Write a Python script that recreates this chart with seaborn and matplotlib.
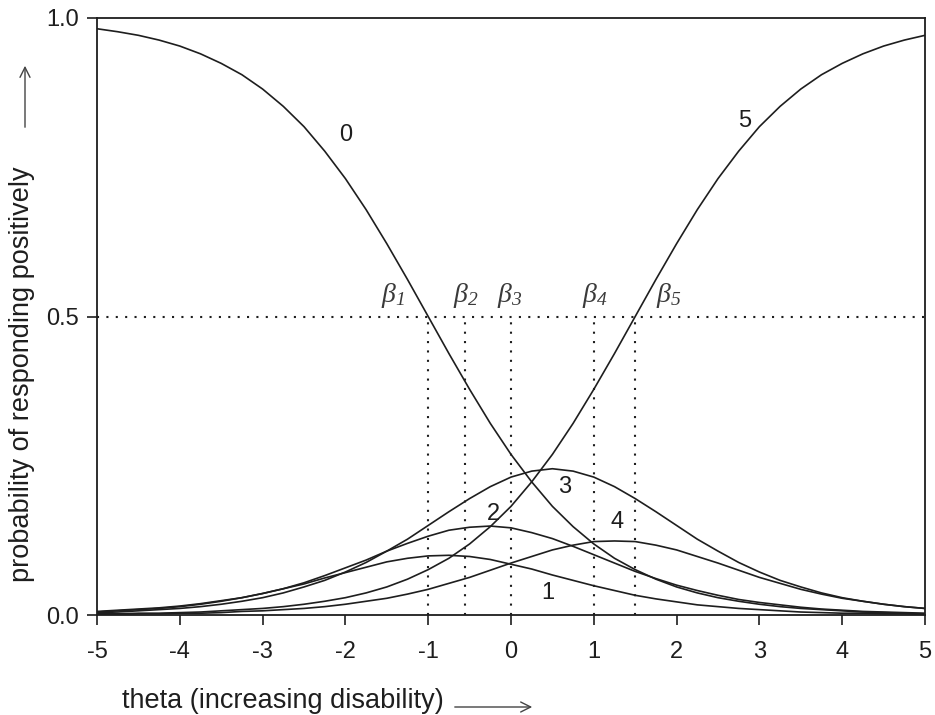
import matplotlib
matplotlib.use("Agg")
import matplotlib.pyplot as plt
import pandas as pd
import seaborn as sns

# ---- data ----
theta = [-5.0, -4.75, -4.5, -4.25, -4.0, -3.75, -3.5, -3.25, -3.0, -2.75,
         -2.5, -2.25, -2.0, -1.75, -1.5, -1.25, -1.0, -0.75, -0.5, -0.25,
         0.0, 0.25, 0.5, 0.75, 1.0, 1.25, 1.5, 1.75, 2.0, 2.25,
         2.5, 2.75, 3.0, 3.25, 3.5, 3.75, 4.0, 4.25, 4.5, 4.75, 5.0]

cat0 = [0.982, 0.977, 0.971, 0.963, 0.953, 0.940, 0.924, 0.905, 0.881, 0.852,
        0.818, 0.777, 0.731, 0.679, 0.622, 0.562, 0.500, 0.438, 0.378, 0.321,
        0.269, 0.223, 0.182, 0.148, 0.119, 0.095, 0.076, 0.060, 0.047, 0.037,
        0.029, 0.023, 0.018, 0.014, 0.011, 0.009, 0.007, 0.005, 0.004, 0.003, 0.002]
cat1 = [0.006, 0.008, 0.010, 0.012, 0.015, 0.019, 0.024, 0.029, 0.036, 0.044,
        0.052, 0.062, 0.071, 0.080, 0.089, 0.095, 0.099, 0.100, 0.098, 0.093,
        0.085, 0.077, 0.067, 0.058, 0.049, 0.041, 0.033, 0.027, 0.022, 0.017,
        0.014, 0.011, 0.009, 0.007, 0.005, 0.004, 0.003, 0.003, 0.002, 0.002, 0.001]
cat2 = [0.005, 0.007, 0.009, 0.011, 0.014, 0.018, 0.023, 0.029, 0.036, 0.044,
        0.054, 0.066, 0.079, 0.092, 0.107, 0.120, 0.132, 0.142, 0.147, 0.149,
        0.146, 0.138, 0.128, 0.115, 0.101, 0.087, 0.073, 0.061, 0.050, 0.041,
        0.033, 0.026, 0.021, 0.017, 0.013, 0.010, 0.008, 0.006, 0.005, 0.004, 0.003]
cat3 = [0.004, 0.005, 0.007, 0.009, 0.011, 0.014, 0.018, 0.023, 0.029, 0.037,
        0.047, 0.058, 0.072, 0.088, 0.107, 0.127, 0.150, 0.173, 0.195, 0.215,
        0.231, 0.241, 0.245, 0.241, 0.231, 0.215, 0.195, 0.173, 0.150, 0.127,
        0.107, 0.088, 0.072, 0.058, 0.047, 0.037, 0.029, 0.023, 0.018, 0.014, 0.011]
cat4 = [0.001, 0.001, 0.002, 0.002, 0.003, 0.003, 0.004, 0.006, 0.007, 0.009,
        0.011, 0.014, 0.018, 0.023, 0.028, 0.035, 0.043, 0.053, 0.063, 0.075,
        0.087, 0.098, 0.109, 0.117, 0.123, 0.124, 0.123, 0.117, 0.109, 0.098,
        0.087, 0.075, 0.063, 0.053, 0.043, 0.035, 0.028, 0.023, 0.018, 0.014, 0.011]
cat5 = [0.002, 0.002, 0.003, 0.003, 0.004, 0.005, 0.007, 0.009, 0.011, 0.014,
        0.018, 0.023, 0.029, 0.037, 0.047, 0.060, 0.076, 0.095, 0.119, 0.148,
        0.182, 0.223, 0.269, 0.321, 0.378, 0.438, 0.500, 0.562, 0.622, 0.679,
        0.731, 0.777, 0.818, 0.852, 0.881, 0.905, 0.924, 0.940, 0.953, 0.963, 0.971]

categories = ["0", "1", "2", "3", "4", "5"]
curve_label_x = [-2.0, 0.44, -0.21, 0.65, 1.28, 2.82]
curve_label_y = [0.804, 0.037, 0.170, 0.215, 0.155, 0.828]

beta_pos = [-1.0, -0.56, 0.0, 1.0, 1.5]
beta_labels = [r"$\beta_1$", r"$\beta_2$", r"$\beta_3$", r"$\beta_4$", r"$\beta_5$"]
beta_label_x = [-1.42, -0.54, -0.02, 1.01, 1.91]
beta_label_y = 0.535
half = 0.5

xticks = [-5, -4, -3, -2, -1, 0, 1, 2, 3, 4, 5]
xticklabels = ["-5", "-4", "-3", "-2", "-1", "0", "1", "2", "3", "4", "5"]
yticks = [0.0, 0.5, 1.0]
yticklabels = ["0.0", "0.5", "1.0"]

# ---- build long-form table ----
series = [cat0, cat1, cat2, cat3, cat4, cat5]
rows = []
for cat, vals in zip(categories, series):
    for t, v in zip(theta, vals):
        rows.append({"theta": t, "prob": v, "category": cat})
df = pd.DataFrame(rows)

sns.set_theme(style="white")
plt.rcParams["font.family"] = ["Liberation Sans", "DejaVu Sans"]
plt.rcParams["mathtext.fontset"] = "custom"
plt.rcParams["mathtext.rm"] = "Liberation Serif:italic"
plt.rcParams["mathtext.it"] = "Liberation Serif:italic"

ink = "#1e1e1e"
fig = plt.figure(figsize=(9.35, 7.15), dpi=100)
ax = fig.add_axes([97 / 935, 100 / 715, 828 / 935, 597 / 715])

sns.lineplot(data=df, x="theta", y="prob", hue="category",
             palette=[ink] * 6, legend=False, linewidth=1.2, ax=ax)

# dotted guide lines
ax.plot([-5, 5], [half, half], color=ink, linestyle=(0, (1, 3.5)), linewidth=1.5)
for b in beta_pos:
    ax.plot([b, b], [0, half], color=ink, linestyle=(0, (1, 3.5)), linewidth=1.5)

for lab, lx, ly in zip(categories, curve_label_x, curve_label_y):
    ax.text(lx, ly, lab, fontsize=17, ha="center", va="center", color=ink)

for lab, lx in zip(beta_labels, beta_label_x):
    ax.text(lx, beta_label_y, lab, fontsize=20, ha="center", va="center", color="#3a3a3a")

ax.set_xlim(-5, 5)
ax.set_ylim(0, 1)
ax.set_xticks(xticks)
ax.set_xticklabels(xticklabels)
ax.set_yticks(yticks)
ax.set_yticklabels(yticklabels)
ax.tick_params(axis="x", direction="out", length=7, width=1.2, pad=12,
               labelsize=17, colors=ink, bottom=True)
ax.tick_params(axis="y", direction="out", length=7, width=1.2, pad=6,
               labelsize=17, colors=ink, left=True)
for s in ax.spines.values():
    s.set_visible(True)
    s.set_color(ink)
    s.set_linewidth(1.3)
ax.set_xlabel("")
ax.set_ylabel("")

# axis titles with arrows
fig.text(122 / 935, 1 - 701 / 715, "theta (increasing disability)", fontsize=19.5,
         ha="left", va="center", color=ink)
fig.text(22 / 935, 1 - 374 / 715, "probability of responding positively", fontsize=19.5,
         ha="center", va="center", rotation=90, color=ink)
ax.annotate("", xy=(535, 715 - 707), xytext=(452, 715 - 707),
            xycoords="figure pixels", textcoords="figure pixels",
            arrowprops=dict(arrowstyle="->", color="#444444", lw=1.0,
                            mutation_scale=18))
ax.annotate("", xy=(25, 715 - 63), xytext=(25, 715 - 130),
            xycoords="figure pixels", textcoords="figure pixels",
            arrowprops=dict(arrowstyle="->", color="#444444", lw=1.0,
                            mutation_scale=18))

fig.savefig("out.png", dpi=100, facecolor="white")
